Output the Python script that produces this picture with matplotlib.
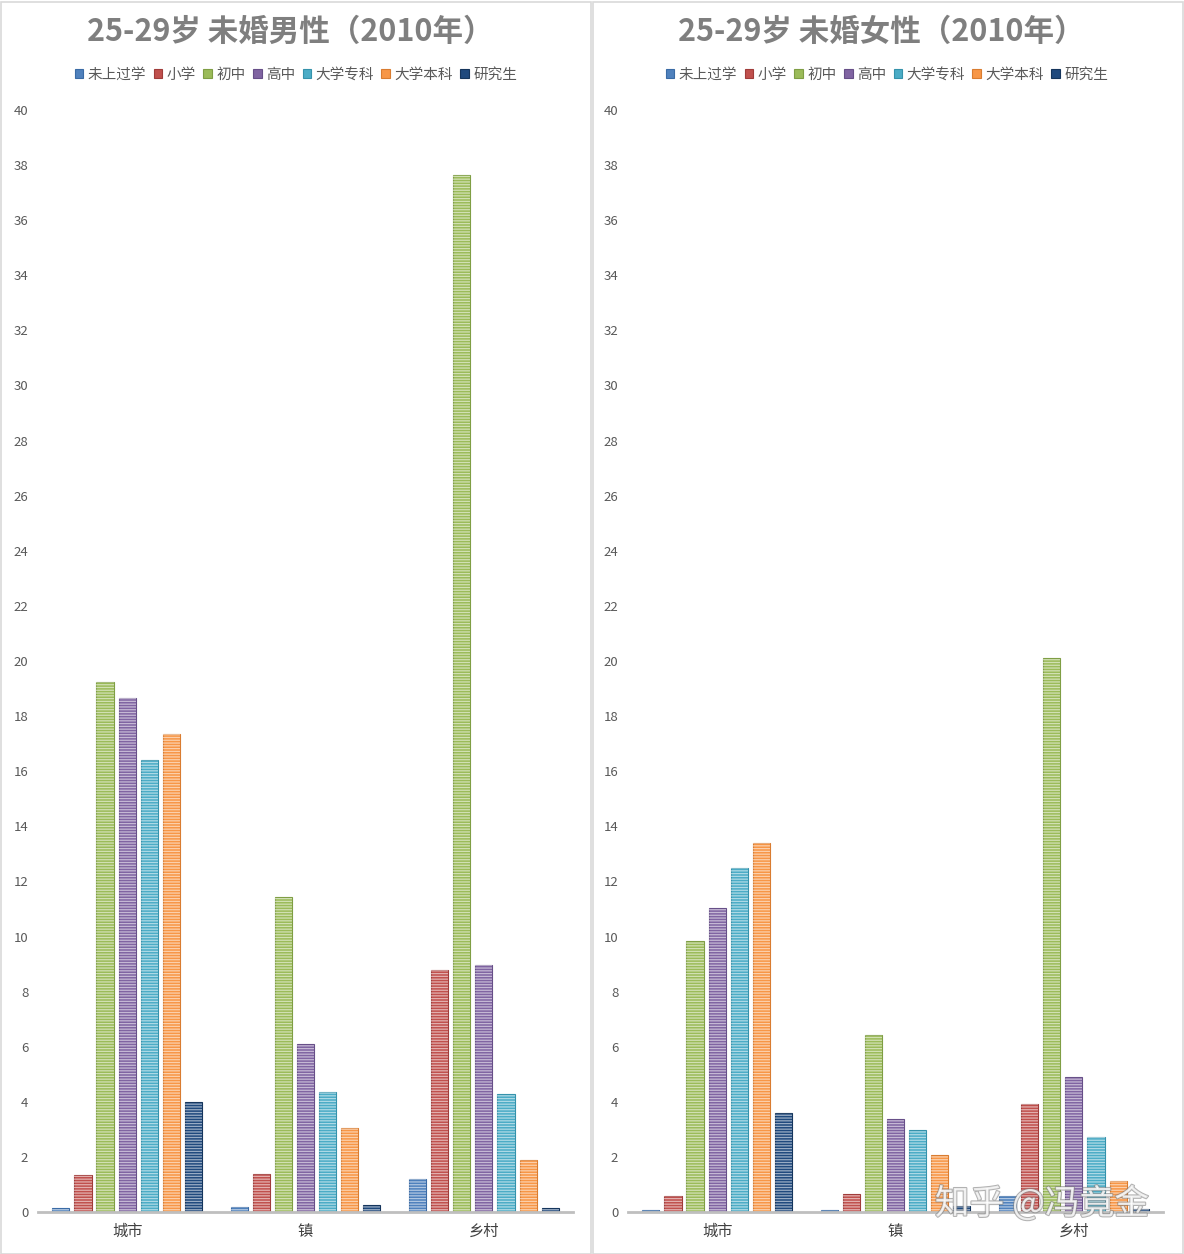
import numpy as np
import matplotlib
matplotlib.use("Agg")
import matplotlib.pyplot as plt
import matplotlib.patheffects as pe
from matplotlib.patches import Rectangle

plt.rcParams['font.family'] = ['Noto Sans CJK SC', 'DejaVu Sans']
plt.rcParams['hatch.linewidth'] = 0.9

places = ['城市', '镇', '乡村']
levels = ['未上过学', '小学', '初中', '高中', '大学专科', '大学本科', '研究生']
colors = ['#4F81BD', '#C0504D', '#9BBB59', '#8064A2', '#4BACC6', '#F79646', '#1F497D']
edge_colors = ['#3A6BA5', '#A03C3A', '#7F9E44', '#674F88', '#3592AB', '#D97C30', '#15355C']

# share (%) per education level, rows = levels, cols = 城市 / 镇 / 乡村
male = [
    [0.15, 0.18, 1.20],
    [1.34, 1.38, 8.78],
    [19.24, 11.43, 37.64],
    [18.66, 6.10, 8.97],
    [16.40, 4.36, 4.28],
    [17.35, 3.05, 1.89],
    [4.00, 0.25, 0.14],
]
female = [
    [0.07, 0.07, 0.58],
    [0.58, 0.65, 3.92],
    [9.84, 6.42, 20.10],
    [11.04, 3.38, 4.90],
    [12.49, 2.98, 2.72],
    [13.39, 2.07, 1.13],
    [3.60, 0.20, 0.10],
]
titles = ['25-29岁 未婚男性（2010年）', '25-29岁 未婚女性（2010年）']
yticks = list(range(0, 41, 2))

fig = plt.figure(figsize=(11.84, 12.54), dpi=100)

# panel frames
for x0 in [0.5 / 1184, 593 / 1184]:
    fig.patches.append(Rectangle((x0, 0.5 / 1254), 590 / 1184, 1252 / 1254,
                                 transform=fig.transFigure, fill=False,
                                 edgecolor='#D9D9D9', linewidth=1.2))

axes_left = [38 / 1184, 628 / 1184]
for k, data in enumerate([male, female]):
    ax = fig.add_axes([axes_left[k], 42 / 1254, 535 / 1184, 1102 / 1254])
    x = np.arange(len(places))
    pitch, width = 0.124, 0.096
    for i, lvl in enumerate(levels):
        pos = x + (i - 3) * pitch
        ax.bar(pos, data[i], width=width, color=colors[i],
               edgecolor=edge_colors[i], linewidth=0.8, label=lvl, zorder=2)
        ax.bar(pos, data[i], width=width, fill=False,
               edgecolor=(1, 1, 1, 0.55), linewidth=0, hatch='------', zorder=3)
    ax.set_xlim(-0.5, 2.5)
    ax.set_ylim(0, 40)
    ax.set_yticks(yticks)
    ax.set_xticks(x)
    ax.set_xticklabels(places, fontsize=11, color='#404040')
    ax.tick_params(axis='y', length=0, pad=7, labelsize=9.5, labelcolor='#595959')
    ax.tick_params(axis='x', length=0, pad=8)
    for s in ['top', 'right', 'left']:
        ax.spines[s].set_visible(False)
    ax.spines['bottom'].set_color('#BFBFBF')
    ax.spines['bottom'].set_linewidth(2)
    ax.spines['bottom'].set_zorder(4)

    fig.text((k * 591 + 290) / 1184, 1 - 32 / 1254, titles[k], ha='center', va='center',
             fontsize=22, fontweight='bold', color='#7F7F7F')
    fig.legend(*ax.get_legend_handles_labels(), loc='center',
               bbox_to_anchor=((k * 591 + 296) / 1184, 1 - 75 / 1254), ncol=7,
               frameon=False, fontsize=10.5, handlelength=0.6, handleheight=0.6,
               handletextpad=0.3, columnspacing=0.5, labelcolor='#595959')

# watermark
fig.text(1042 / 1184, 1 - 1204 / 1254, '知乎 @冯竟金', ha='center', va='center',
         fontsize=25, color=(1, 1, 1, 0.75), zorder=10,
         path_effects=[pe.withStroke(linewidth=1.5, foreground=(0.5, 0.5, 0.5, 0.6))])

fig.savefig('out.png', dpi=100)
